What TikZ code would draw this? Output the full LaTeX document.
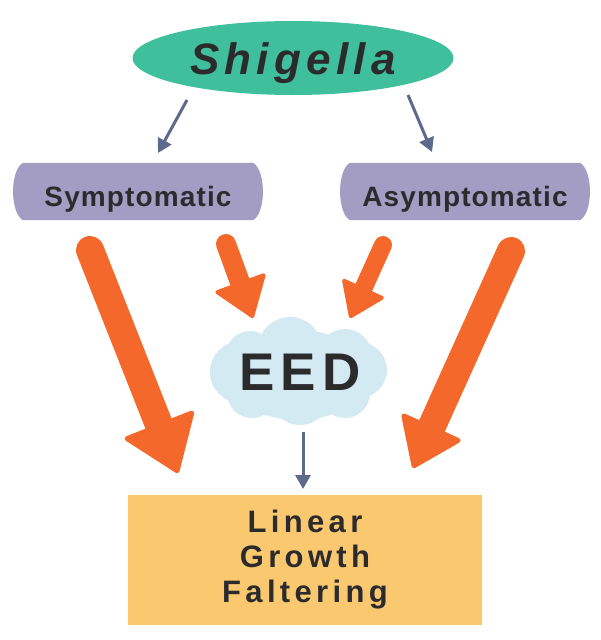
\documentclass[tikz,border=0pt]{standalone}
\usepackage{fontspec}
\usetikzlibrary{shapes.geometric,shapes.symbols,arrows.meta,backgrounds}
\newfontfamily\shigfont{Liberation Sans}[LetterSpace=12]
\newfontfamily\boxfont{Liberation Sans}[LetterSpace=4]
\newfontfamily\eedfont{Liberation Sans}[LetterSpace=12]
\newfontfamily\lgffont{Liberation Sans}[LetterSpace=14]
\definecolor{teal1}{HTML}{3FBF9C}
\definecolor{lav}{HTML}{A39CC3}
\definecolor{orng}{HTML}{F4692B}
\definecolor{grayar}{HTML}{5D6A8C}
\definecolor{lblue}{HTML}{D3EAF3}
\definecolor{yel}{HTML}{F9C86F}
\definecolor{txt}{HTML}{2B2B2E}
\tikzset{
  lavbox/.style={minimum width=230pt, minimum height=57pt, inner sep=0pt,
    font=\boxfont\bfseries\fontsize{28}{30}\selectfont, text=txt,
    text height=30pt, text depth=0pt},
  grayarrow/.style={draw=grayar, line width=3pt, -{Triangle[width=15pt,length=14pt]}},
  orarrow/.style={draw=orng, line cap=round}
}
\begin{document}
\begin{tikzpicture}[x=1pt,y=-1pt]
\useasboundingbox (0,0) rectangle (600,640);

% Shigella ellipse
\node[ellipse, fill=teal1, minimum width=321pt, minimum height=74pt, inner sep=0pt,
  font=\shigfont\bfseries\itshape\fontsize{44}{50}\selectfont, text=txt,
  text height=32pt, text depth=0pt] (shig) at (293,58) {Shigella};

% purple boxes
\node[lavbox] (sym) at (138,191.5) {Symptomatic};
\node[lavbox] (asym) at (465,191.5) {Asymptomatic};

% EED cloud (text node, cloud body drawn behind)
\node[minimum width=177pt, minimum height=108pt, inner sep=0pt,
  font=\eedfont\bfseries\fontsize{53}{56}\selectfont, text=txt,
  text height=38pt, text depth=0pt] (eed) at (300,371) {EED};

\begin{scope}[on background layer]
\foreach \n in {sym,asym}{
  \fill[lav] (\n.north west) -- (\n.north east)
    .. controls +(13,8) and +(13,-8) .. (\n.south east) -- (\n.south west)
    .. controls +(-13,-8) and +(-13,8) .. (\n.north west) -- cycle;
}
\fill[lblue] (298,375) ellipse [x radius=70, y radius=45];
\fill[lblue] (290,349) circle [radius=32];
\fill[lblue] (345,356) circle [radius=27];
\fill[lblue] (241,372) circle [radius=31];
\fill[lblue] (359,370) circle [radius=28];
\fill[lblue] (300,395) circle [radius=30];
\fill[lblue] (252,393) circle [radius=25];
\fill[lblue] (345,393) circle [radius=25];
\fill[lblue] (250,355) circle [radius=24];
\end{scope}

% Linear Growth Faltering
\node[fill=yel, minimum width=354pt, minimum height=130pt, align=center,
  font=\lgffont\bfseries\fontsize{31}{35}\selectfont, text=txt] (lgf) at (305,560)
  {Linear\\Growth\\Faltering};

% gray arrow coordinates
\coordinate (g1s) at (187,100);
\coordinate (g1e) at (158,153);
\coordinate (g2s) at (408,95);
\coordinate (g2e) at (432,152);
\coordinate (g3s) at (303,432);
\coordinate (g3e) at (303,489);
\draw[grayarrow] (g1s) -- (g1e);
\draw[grayarrow] (g2s) -- (g2e);
\draw[grayarrow] (g3s) -- (g3e);

% orange arrows
\coordinate (o1s) at (90,250);
\coordinate (o1e) at (178,473);
\coordinate (o2s) at (226,244);
\coordinate (o2e) at (253,318);
\coordinate (o3s) at (383,245);
\coordinate (o3e) at (350,318);
\coordinate (o4s) at (511,251);
\coordinate (o4e) at (413,468);
\draw[orarrow, line width=28pt, -{Triangle[width=78pt,length=55pt,line width=5pt,round]}] (o1s) -- (o1e);
\draw[orarrow, line width=20pt, -{Triangle[width=56pt,length=40pt,line width=4pt,round]}] (o2s) -- (o2e);
\draw[orarrow, line width=18pt, -{Triangle[width=48pt,length=35pt,line width=4pt,round]}] (o3s) -- (o3e);
\draw[orarrow, line width=28pt, -{Triangle[width=68pt,length=48pt,line width=5pt,round]}] (o4s) -- (o4e);
\end{tikzpicture}
\end{document}
